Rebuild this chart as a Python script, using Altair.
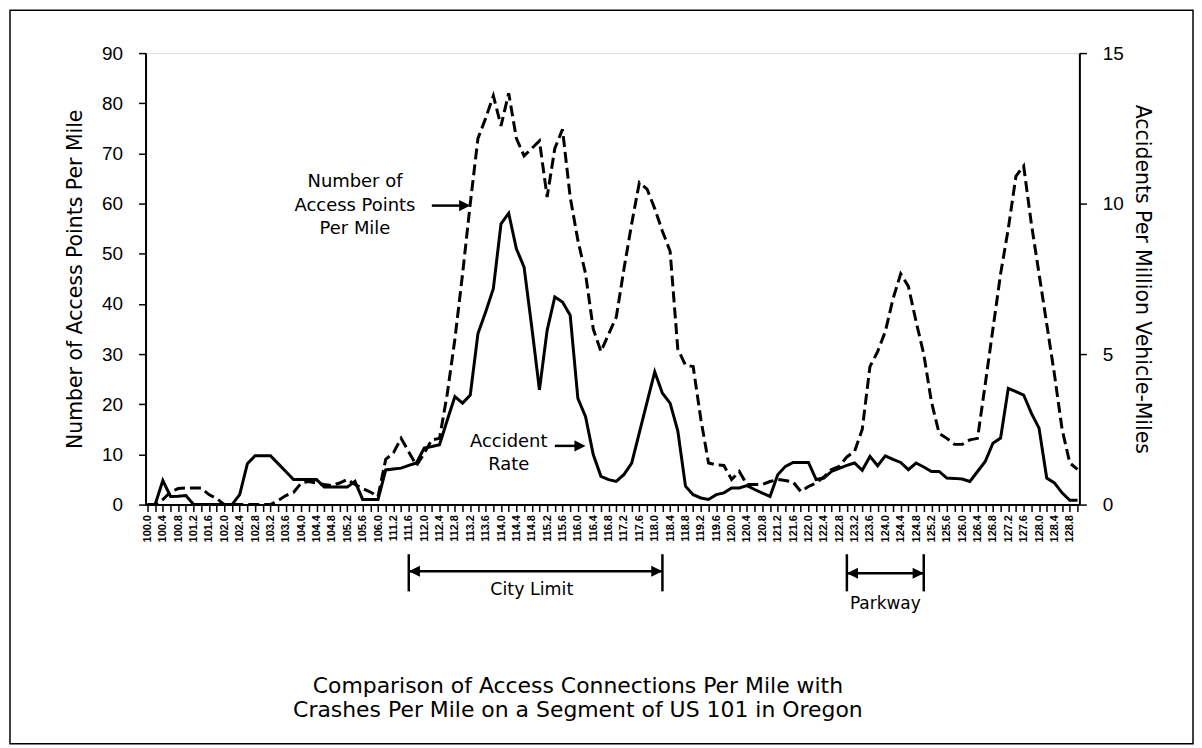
import altair as alt
import pandas as pd

# Mileposts (category axis); "111.0" is the unlabeled gap position between 106.0 and 111.2
milepost = [
    "100.0", "100.2", "100.4", "100.6", "100.8", "101.0", "101.2", "101.4", "101.6", "101.8",
    "102.0", "102.2", "102.4", "102.6", "102.8", "103.0", "103.2", "103.4", "103.6", "103.8",
    "104.0", "104.2", "104.4", "104.6", "104.8", "105.0", "105.2", "105.4", "105.6", "105.8",
    "106.0", "111.0",
    "111.2", "111.4", "111.6", "111.8", "112.0", "112.2", "112.4", "112.6", "112.8", "113.0",
    "113.2", "113.4", "113.6", "113.8", "114.0", "114.2", "114.4", "114.6", "114.8", "115.0",
    "115.2", "115.4", "115.6", "115.8", "116.0", "116.2", "116.4", "116.6", "116.8", "117.0",
    "117.2", "117.4", "117.6", "117.8", "118.0", "118.2", "118.4", "118.6", "118.8", "119.0",
    "119.2", "119.4", "119.6", "119.8", "120.0", "120.2", "120.4", "120.6", "120.8", "121.0",
    "121.2", "121.4", "121.6", "121.8", "122.0", "122.2", "122.4", "122.6", "122.8", "123.0",
    "123.2", "123.4", "123.6", "123.8", "124.0", "124.2", "124.4", "124.6", "124.8", "125.0",
    "125.2", "125.4", "125.6", "125.8", "126.0", "126.2", "126.4", "126.6", "126.8", "127.0",
    "127.2", "127.4", "127.6", "127.8", "128.0", "128.2", "128.4", "128.6", "128.8", "129.0",
]

# Number of access points per mile (left axis, dashed)
access_points = [
    0, 0, 1.0, 2.5, 3.2, 3.3, 3.3, 3.3, 2.0, 1.2,
    0, 0, 0, 0, 0, 0, 0, 0.8, 1.8, 2.4,
    4.3, 4.6, 4.3, 4.0, 3.8, 4.3, 5.0, 4.0, 3.2, 2.5,
    1.6, 9.0,
    10.3, 13.2, 10.5, 7.8, 10.2, 12.9, 13.2, 22, 33, 46,
    60, 73, 77, 81.5, 75.5, 82, 73, 69.5, 71, 72.5,
    61.3, 71, 74.8, 61.3, 52.7, 46, 35, 30.5, 34, 37.4,
    47, 56, 64.2, 62.9, 59, 54.5, 50.5, 31, 27.8, 27.5,
    17, 8.3, 7.9, 7.8, 5.0, 6.6, 4.0, 4.0, 4.0, 4.6,
    5.0, 4.8, 4.5, 2.6, 3.6, 4.3, 5.5, 7.0, 7.6, 9.5,
    10.6, 15, 27.5, 30.5, 34.5, 41, 46, 43.5, 36.5, 30,
    20.5, 14.2, 13.2, 12.0, 12.0, 12.9, 13.2, 24, 35, 46,
    55, 65.5, 67.5, 56, 46, 36, 26, 15, 8.3, 7.0,
]

# Accidents per million vehicle-miles (right axis, solid)
accident_rate = [
    0, 0, 0.8, 0.27, 0.28, 0.3, 0, 0, 0, 0,
    0, 0, 0.33, 1.36, 1.62, 1.62, 1.62, 1.36, 1.1, 0.83,
    0.83, 0.83, 0.83, 0.58, 0.58, 0.58, 0.58, 0.77, 0.17, 0.17,
    0.17, 1.15,
    1.18, 1.21, 1.3, 1.38, 1.88, 1.93, 1.99, 2.8, 3.59, 3.37,
    3.64, 5.68, 6.4, 7.17, 9.33, 9.68, 8.5, 7.89, 5.9, 3.81,
    5.79, 6.9, 6.73, 6.29, 3.53, 2.92, 1.66, 0.94, 0.83, 0.77,
    1.0, 1.38, 2.39, 3.4, 4.41, 3.7, 3.37, 2.45, 0.61, 0.33,
    0.22, 0.17, 0.33, 0.39, 0.55, 0.55, 0.63, 0.5, 0.38, 0.27,
    0.99, 1.27, 1.4, 1.4, 1.4, 0.83, 0.88, 1.1, 1.2, 1.3,
    1.38, 1.14, 1.6, 1.29, 1.62, 1.5, 1.4, 1.16, 1.38, 1.25,
    1.1, 1.1, 0.88, 0.87, 0.85, 0.77, 1.1, 1.43, 2.04, 2.21,
    3.86, 3.75, 3.64, 3.04, 2.54, 0.88, 0.72, 0.39, 0.14, 0.14,
]

# Annotation texts
label_access = ["Number of", "Access Points", "Per Mile"]
label_rate = ["Accident", "Rate"]
title_lines = [
    "Comparison of Access Connections Per Mile with",
    "Crashes Per Mile on a Segment of US 101 in Oregon",
]

df = pd.DataFrame({
    "mp": milepost,
    "access": access_points,
    "rate": accident_rate,
    "idx": list(range(len(milepost))),
})

FONT = "DejaVu Sans"
W, H = 937, 453

label_expr = "round(toNumber(datum.value) * 10) % 4 === 0 ? datum.value : ''"
x_axis = alt.Axis(
    title=None, labelAngle=-90, labelExpr=label_expr, labelOverlap=False,
    labelFont="Liberation Sans", labelFontWeight="bold", labelFontSize=11,
    labelColor="black", labelPadding=3, tickColor="black", tickSize=7,
    tickWidth=1.5, domainColor="black", domainWidth=2, grid=False,
)
x_scale = alt.Scale(type="point", domain=milepost, padding=0.25)
X = alt.X("mp:O", scale=x_scale, axis=x_axis)

ann_y_scale = alt.Scale(domain=[0, 90])

dashed = alt.Chart(df).mark_line(
    color="black", strokeWidth=3, strokeDash=[11, 5]
).encode(
    x=X,
    y=alt.Y(
        "access:Q",
        scale=alt.Scale(domain=[0, 90]),
        axis=alt.Axis(
            values=list(range(0, 91, 10)), title="Number of Access Points Per Mile",
            titleFont=FONT, titleFontSize=20.5, titleFontWeight="normal", titleColor="black",
            titlePadding=16, labelFont="Liberation Sans", labelFontSize=19,
            labelColor="black", labelPadding=16, tickColor="black", tickSize=7,
            tickWidth=1.5, domainColor="black", domainWidth=2, grid=False,
        ),
    ),
    order="idx:Q",
)

solid = alt.Chart(df).mark_line(color="black", strokeWidth=3).encode(
    x=X,
    y=alt.Y(
        "rate:Q",
        scale=alt.Scale(domain=[0, 15]),
        axis=alt.Axis(
            orient="right", values=[0, 5, 10, 15],
            title="Accidents Per Million Vehicle-Miles",
            titleFont=FONT, titleFontSize=20.5, titleFontWeight="normal", titleColor="black",
            titlePadding=8, labelFont="Liberation Sans", labelFontSize=19,
            labelColor="black", labelPadding=16, tickColor="black", tickSize=7,
            tickWidth=1.5, domainColor="black", domainWidth=2, grid=False,
        ),
    ),
    order="idx:Q",
)

# ---- annotations (anchored in data coordinates of the access-points scale) ----
text_df = pd.DataFrame({
    "mp": ["105.4", "105.4", "105.4", "114.2", "114.2", "114.8", "124.0", "116.0", "116.0"],
    "v": [64.2, 59.6, 55.0, 12.4, 7.9, -17.0, -19.9, -36.2, -40.9],
    "t": label_access + label_rate + ["City Limit", "Parkway"] + title_lines,
    "fs": [18, 18, 18, 18, 18, 17.5, 17, 22, 22],
})
texts = alt.Chart(text_df).mark_text(
    font=FONT, color="black", align="center", baseline="middle"
).encode(
    x=X,
    y=alt.Y("v:Q", scale=ann_y_scale, axis=None),
    text="t:N",
    size=alt.Size("fs:Q", scale=None, legend=None),
)

# arrow shafts and bracket lines
seg_df = pd.DataFrame({
    "mp": ["112.2", "113.0", "115.4", "116.0",
           "111.6", "118.2", "123.0", "125.0",
           "111.6", "111.6", "118.2", "118.2",
           "123.0", "123.0", "125.0", "125.0"],
    "v": [59.6, 59.6, 11.7, 11.7,
          -13.3, -13.3, -13.7, -13.7,
          -9.9, -17.3, -9.9, -17.3,
          -9.9, -17.3, -9.9, -17.3],
    "g": ["a", "a", "b", "b", "c", "c", "d", "d",
          "e", "e", "f", "f", "h", "h", "k", "k"],
})
segs = alt.Chart(seg_df).mark_line(color="black", strokeWidth=2.5).encode(
    x=X,
    y=alt.Y("v:Q", scale=ann_y_scale, axis=None),
    detail="g:N",
)

right_head = "M0,0 L-1,-0.5 L-1,0.5 Z"
left_head = "M0,0 L1,-0.5 L1,0.5 Z"
head_r_df = pd.DataFrame({"mp": ["113.2", "116.2", "118.2", "125.0"],
                          "v": [59.6, 11.7, -13.3, -13.7]})
head_l_df = pd.DataFrame({"mp": ["111.6", "123.0"], "v": [-13.3, -13.7]})
heads_r = alt.Chart(head_r_df).mark_point(
    shape=right_head, filled=True, color="black", size=500, opacity=1
).encode(x=X, y=alt.Y("v:Q", scale=ann_y_scale, axis=None))
heads_l = alt.Chart(head_l_df).mark_point(
    shape=left_head, filled=True, color="black", size=500, opacity=1
).encode(x=X, y=alt.Y("v:Q", scale=ann_y_scale, axis=None))

# outer frame of the figure
frame = alt.Chart(pd.DataFrame({"k": [0]})).mark_rect(
    fill=None, stroke="black", strokeWidth=1.5
).encode(
    x=alt.value(-136), x2=alt.value(1051), y=alt.value(-43), y2=alt.value(693)
)

chart = alt.layer(
    dashed, solid, texts, segs, heads_r, heads_l, frame
).resolve_scale(y="independent").properties(
    width=W, height=H,
    autosize=alt.AutoSizeParams(type="none"),
    padding={"left": 138, "top": 44, "right": 115, "bottom": 241},
).configure_view(
    stroke="black", strokeWidth=2
).configure(background="white")

chart.save("out.html", embed_options={"renderer": "svg", "actions": False})
